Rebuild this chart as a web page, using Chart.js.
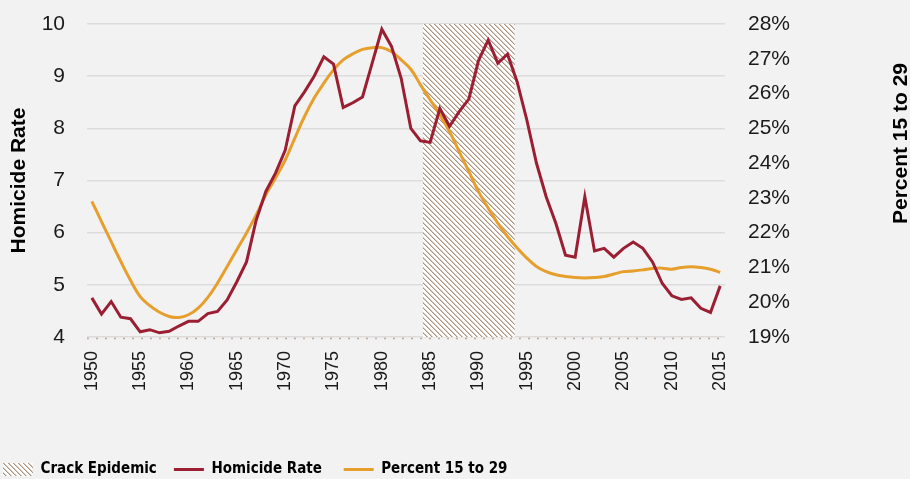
<!DOCTYPE html>
<html><head><meta charset="utf-8">
<script src="https://cdn.jsdelivr.net/npm/chart.js@4.4.1/dist/chart.umd.min.js"></script>
<style>
html,body{margin:0;padding:0;background:#f2f2f2;overflow:hidden;width:910px;height:479px}
#wrap{position:absolute;left:0;top:0;width:910px;height:487px}
</style>
</head><body><div id="wrap"><canvas id="c" width="910" height="487"></canvas></div>
<script>
const years = [1950,1951,1952,1953,1954,1955,1956,1957,1958,1959,
  1960,1961,1962,1963,1964,1965,1966,1967,1968,1969,
  1970,1971,1972,1973,1974,1975,1976,1977,1978,1979,
  1980,1981,1982,1983,1984,1985,1986,1987,1988,1989,
  1990,1991,1992,1993,1994,1995,1996,1997,1998,1999,
  2000,2001,2002,2003,2004,2005,2006,2007,2008,2009,
  2010,2011,2012,2013,2014,2015];
const homicideRate = [4.75,4.44,4.68,4.38,4.35,4.10,4.14,4.08,4.11,4.21,
  4.30,4.30,4.45,4.49,4.71,5.06,5.44,6.24,6.79,7.14,
  7.58,8.43,8.70,9.00,9.37,9.23,8.40,8.49,8.60,9.25,
  9.90,9.57,8.96,8.00,7.76,7.73,8.38,8.04,8.32,8.56,
  9.30,9.69,9.25,9.42,8.89,8.16,7.33,6.69,6.18,5.57,
  5.53,6.69,5.65,5.70,5.53,5.70,5.82,5.70,5.44,5.03,
  4.79,4.72,4.75,4.55,4.47,4.98];
const percent15to29 = [22.90,22.32,21.74,21.17,20.63,20.16,19.90,19.71,19.59,19.56,
  19.64,19.83,20.14,20.55,21.03,21.51,21.99,22.51,23.09,23.57,
  24.09,24.72,25.34,25.87,26.30,26.68,26.97,27.14,27.27,27.32,
  27.32,27.20,26.97,26.70,26.25,25.82,25.39,24.91,24.33,23.76,
  23.18,22.71,22.27,21.89,21.56,21.27,21.03,20.88,20.79,20.74,
  20.71,20.70,20.71,20.74,20.81,20.88,20.90,20.93,20.97,20.98,
  20.95,21.00,21.02,21.00,20.95,20.86];
const crackEpidemicYears = [1985,1986,1987,1988,1989,1990,1991,1992,1993];
const crackEpidemicLevel = 10;
const leftTitle = 'Homicide Rate';
const rightTitle = 'Percent 15 to 29';
const seriesNames = ['Crack Epidemic','Homicide Rate','Percent 15 to 29'];

const crackEpidemic = years.map(y => crackEpidemicYears.includes(y) ? crackEpidemicLevel : null);

function makeHatch() {
  const P = 5;
  const p = document.createElement('canvas');
  p.width = P; p.height = P;
  const g = p.getContext('2d');
  g.fillStyle = '#ffffff'; g.fillRect(0,0,P,P);
  for (let y = 0; y < P; y++) {
    for (let x = 0; x < P; x++) {
      const d = ((x - y) % P + P) % P;
      if (d === 0) { g.fillStyle = '#ad9482'; g.fillRect(x,y,1,1); }
      else if (d === 1) { g.fillStyle = '#d6c8bd'; g.fillRect(x,y,1,1); }
    }
  }
  return document.getElementById('c').getContext('2d').createPattern(p, 'repeat');
}
const hatch = makeHatch();

const RED = '#9b1f33';
const ORANGE = '#e69f2c';
const tickFont = {family: "'Liberation Sans', Arial, sans-serif", size: 21};
const legendFont = {family: "'Liberation Sans Narrow', 'DejaVu Sans Condensed', 'Liberation Sans', sans-serif", size: 15, weight: 'bold'};
const legendGaps = [132.5, 128.5];

const extrasPlugin = {
  id: 'extras',
  beforeDatasetsDraw(chart) {
    const ctx = chart.ctx;
    const ca = chart.chartArea;
    ctx.save();
    ctx.strokeStyle = '#c4a894';
    ctx.lineWidth = 1.5;
    ctx.setLineDash([2, 7]);
    ctx.beginPath();
    ctx.moveTo(ca.left, ca.bottom + 1.5);
    ctx.lineTo(ca.right, ca.bottom + 1.5);
    ctx.stroke();
    ctx.restore();
  },
  afterDraw(chart) {
    const ctx = chart.ctx;
    const ca = chart.chartArea;
    ctx.save();
    ctx.translate(chart.width - 9, (ca.top + ca.bottom) / 2 - 37);
    ctx.rotate(-Math.PI / 2);
    ctx.font = "bold 21px 'Liberation Sans', Arial, sans-serif";
    ctx.fillStyle = '#000';
    ctx.textAlign = 'center';
    ctx.textBaseline = 'middle';
    ctx.fillText(rightTitle, 0, 0);
    ctx.restore();
  }
};

function noVPad(s) { s.paddingTop = 0; s.paddingBottom = 0; }

new Chart(document.getElementById('c'), {
  data: {
    labels: years,
    datasets: [
      {type: 'bar', label: seriesNames[0], data: crackEpidemic, yAxisID: 'y',
       backgroundColor: hatch, borderWidth: 0, barPercentage: 1.5, categoryPercentage: 1, order: 3},
      {type: 'line', label: seriesNames[1], data: homicideRate, yAxisID: 'y',
       borderColor: RED, backgroundColor: RED, borderWidth: 3, pointRadius: 0, tension: 0, order: 1},
      {type: 'line', label: seriesNames[2], data: percent15to29, yAxisID: 'y1',
       borderColor: ORANGE, backgroundColor: ORANGE, borderWidth: 3, pointRadius: 0, tension: 0.4, order: 2}
    ]
  },
  options: {
    responsive: false,
    animation: false,
    devicePixelRatio: 1,
    layout: {padding: {top: 24, left: 0, right: 0, bottom: 0}},
    plugins: {
      tooltip: {enabled: false},
      legend: {
        position: 'bottom', align: 'start',
        labels: {
          font: legendFont, color: '#000', padding: 3,
          usePointStyle: true, pointStyleWidth: 30, boxHeight: 13,
          sort: (a, b) => a.datasetIndex - b.datasetIndex,
          generateLabels(chart) {
            const items = Chart.defaults.plugins.legend.labels.generateLabels(chart);
            items.sort((a, b) => a.datasetIndex - b.datasetIndex);
            const ctx = chart.ctx;
            ctx.save();
            ctx.font = 'bold ' + legendFont.size + 'px ' + legendFont.family;
            const sp = ctx.measureText(' ').width;
            items.forEach((it) => {
              const i = it.datasetIndex;
              it.pointStyle = i === 0 ? 'rect' : 'line';
              it.lineWidth = i === 0 ? 0 : 3;
              if (legendGaps[i] !== undefined) {
                const w = ctx.measureText(it.text).width;
                const n = Math.max(0, Math.round((legendGaps[i] - w) / sp));
                it.text = it.text + ' '.repeat(n);
              }
            });
            ctx.restore();
            return items;
          }
        }
      }
    },
    scales: {
      x: {
        type: 'category',
        offset: true,
        grid: {display: false, drawTicks: false},
        border: {display: false},
        ticks: {
          autoSkip: false, maxRotation: 90, minRotation: 90, padding: 14,
          font: {family: "'Liberation Sans', Arial, sans-serif", size: 18}, color: '#1a1a1a',
          callback(v, i) { const y = years[i]; return y % 5 === 0 ? String(y) : ''; }
        },
        afterFit(s) { s.height = 122; }
      },
      y: {
        position: 'left', min: 4, max: 10,
        ticks: {stepSize: 1, padding: 22, font: tickFont, color: '#1a1a1a'},
        grid: {color: '#dcdcdc', lineWidth: 1.5, drawTicks: false},
        border: {display: false},
        title: {display: true, text: leftTitle, color: '#000', padding: {top: 7, bottom: 0},
          font: {family: "'Liberation Sans', Arial, sans-serif", size: 21, weight: 'bold'}},
        afterFit(s) { s.width = 87; noVPad(s); }
      },
      y1: {
        position: 'right', min: 19, max: 28,
        ticks: {stepSize: 1, padding: 23, font: tickFont, color: '#1a1a1a', callback: v => v + '%'},
        grid: {display: false, drawTicks: false},
        border: {display: false},
        afterFit(s) { s.width = 185; noVPad(s); }
      }
    }
  },
  plugins: [extrasPlugin]
});
</script>
</body></html>
